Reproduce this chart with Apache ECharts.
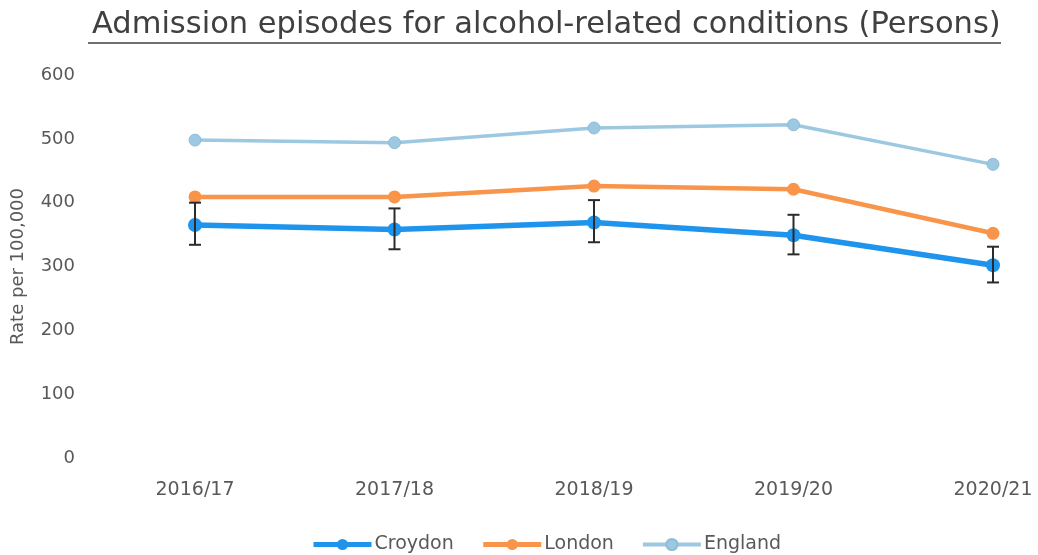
<!DOCTYPE html>
<html>
<head>
<meta charset="utf-8">
<script src="https://cdn.jsdelivr.net/npm/echarts@6/dist/echarts.min.js"></script>
<style>
  html, body { margin: 0; padding: 0; background: #fff; }
  #chart-main { width: 1038px; height: 555px; }
</style>
</head>
<body>
<div id="chart-main"></div>
<script>
// data
const categories = ['2016/17', '2017/18', '2018/19', '2019/20', '2020/21'];
const croydon = [365, 358, 369, 349, 302];
const croydonLow = [334, 327, 338, 319, 275];
const croydonHigh = [400, 391, 404, 381, 331];
const london = [409, 409, 426, 421, 352];
const england = [498, 494, 517, 522, 460];
const yTicks = [0, 100, 200, 300, 400, 500, 600];

const myChart = echarts.init(document.getElementById('chart-main'));

const pts = arr => arr.map((v, i) => [i, v]);
const errData = categories.map((c, i) => [i, croydonLow[i], croydonHigh[i]]);

const labelColor = '#595959';
const font = '"DejaVu Sans", sans-serif';

const cCroydon = '#1F94EC';
const cLondon = '#F8954B';
const cEngland = '#9DC8E2';

const option = {
  animation: false,
  title: {
    text: 'Admission episodes for alcohol-related conditions (Persons)',
    left: 87,
    top: 5,
    textStyle: { fontFamily: font, fontSize: 30.5, fontWeight: 'normal', color: '#404040' }
  },
  graphic: [{
    type: 'line',
    shape: { x1: 88, y1: 43, x2: 1001, y2: 43 },
    style: { stroke: '#404040', lineWidth: 1.5 }
  }],
  legend: {
    top: 530,
    left: 306,
    itemWidth: 58,
    itemHeight: 14,
    itemGap: 27,
    textStyle: { fontFamily: font, fontSize: 19, color: labelColor, padding: [0, 0, 0, -2] },
    data: [
      { name: 'Croydon', lineStyle: { width: 5 } },
      { name: 'London', lineStyle: { width: 5 } },
      { name: 'England', lineStyle: { width: 4 } }
    ]
  },
  grid: { left: 195, right: 45, top: 75, bottom: 97 },
  xAxis: {
    type: 'value',
    min: 0,
    max: categories.length - 1,
    interval: 1,
    splitLine: { show: false },
    axisLine: { show: false },
    axisTick: { show: false },
    axisLabel: {
      margin: 23,
      fontFamily: font,
      fontSize: 19,
      color: labelColor,
      formatter: v => categories[v] || ''
    }
  },
  yAxis: {
    type: 'value',
    min: yTicks[0],
    max: yTicks[yTicks.length - 1],
    interval: 100,
    name: 'Rate per 100,000',
    nameLocation: 'middle',
    nameGap: 168,
    nameTextStyle: { fontFamily: font, fontSize: 18, color: labelColor },
    splitLine: { show: false },
    axisLine: { show: false },
    axisTick: { show: false },
    axisLabel: { margin: 120, fontFamily: font, fontSize: 18, color: labelColor }
  },
  series: [
    {
      name: 'England',
      type: 'line',
      data: pts(england),
      symbol: 'circle',
      symbolSize: 12,
      z: 2,
      lineStyle: { width: 3.5, color: cEngland },
      itemStyle: { color: cEngland, borderColor: '#8FBCD6', borderWidth: 1 }
    },
    {
      name: 'London',
      type: 'line',
      data: pts(london),
      symbol: 'circle',
      symbolSize: 13,
      z: 3,
      lineStyle: { width: 4.5, color: cLondon },
      itemStyle: { color: cLondon }
    },
    {
      name: 'Croydon',
      type: 'line',
      data: pts(croydon),
      symbol: 'circle',
      symbolSize: 14,
      z: 4,
      lineStyle: { width: 5.5, color: cCroydon },
      itemStyle: { color: cCroydon }
    },
    {
      name: 'Croydon CI',
      type: 'custom',
      z: 5,
      data: errData,
      renderItem: function (params, api) {
        const x = api.value(0);
        const lo = api.coord([x, api.value(1)]);
        const hi = api.coord([x, api.value(2)]);
        const w = 6;
        const st = { stroke: '#2b2b2b', lineWidth: 2 };
        return {
          type: 'group',
          children: [
            { type: 'line', shape: { x1: hi[0], y1: hi[1], x2: lo[0], y2: lo[1] }, style: st },
            { type: 'line', shape: { x1: hi[0] - w, y1: hi[1], x2: hi[0] + w, y2: hi[1] }, style: st },
            { type: 'line', shape: { x1: lo[0] - w, y1: lo[1], x2: lo[0] + w, y2: lo[1] }, style: st }
          ]
        };
      }
    }
  ]
};

myChart.setOption(option);
</script>
</body>
</html>
